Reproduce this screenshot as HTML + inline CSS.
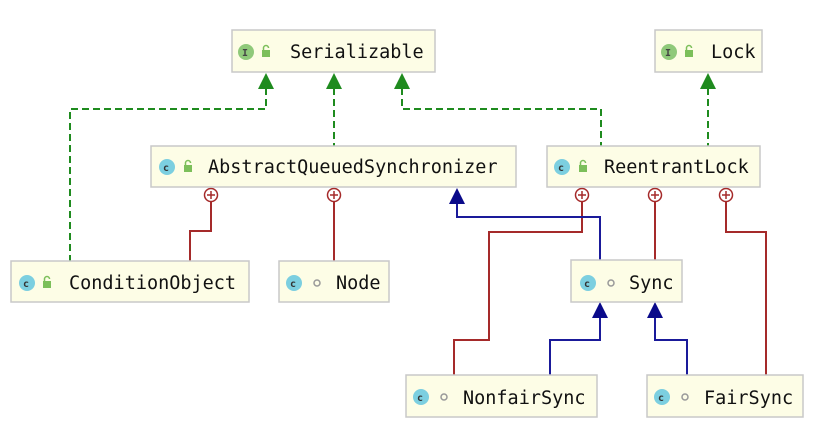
<!DOCTYPE html>
<html><head><meta charset="utf-8"><style>
html,body{margin:0;padding:0;background:#fff;width:826px;height:438px;overflow:hidden}
text{font-family:"DejaVu Sans Mono","Liberation Mono",monospace;font-size:18.5px;fill:#111}
</style></head><body>
<svg width="826" height="438" viewBox="0 0 826 438" xmlns="http://www.w3.org/2000/svg">
<defs>
<g id="lockg"><rect x="0" y="4" width="8" height="7" fill="#7cbf5a"/><path d="M1.5 4 V2 a2.5 2.5 0 0 1 5 0" fill="none" stroke="#7cbf5a" stroke-width="1.5"/></g>
<g id="dot"><circle r="3" fill="none" stroke="#999" stroke-width="1.5"/></g>
<g id="plus"><circle r="6.5" fill="#fff" stroke="#a52a2a" stroke-width="1.5"/><path d="M-4 0H4M0 -4V4" stroke="#a52a2a" stroke-width="1.5"/></g>
</defs>
<g fill="none" stroke-width="2">
<!-- green dashed -->
<g stroke="#1f8b1f" stroke-dasharray="7,4">
<path d="M266 88V109H70V261"/>
<path d="M334 88V146"/>
<path d="M402 88V109H601V146"/>
<path d="M708 88V146"/>
</g>
<!-- red -->
<g stroke="#a52a2a">
<path d="M211 201V231H190V261"/>
<path d="M334 201V261"/>
<path d="M582 201V232H489V340H454V375"/>
<path d="M655 201V260"/>
<path d="M726 201V232H766V375"/>
</g>
<!-- blue -->
<g stroke="#1a1a9a">
<path d="M457 203V217H600V260"/>
<path d="M600 318V340H550V375"/>
<path d="M655 318V340H687V375"/>
</g>
</g>
<!-- arrowheads -->
<g fill="#1f8b1f">
<path d="M266 73L258 89H274Z"/><path d="M334 73L326 89H342Z"/><path d="M402 73L394 89H410Z"/><path d="M708 73L700 89H716Z"/>
</g>
<g fill="#0a0a8a">
<path d="M457 188L449 204H465Z"/><path d="M600 302L592 318H608Z"/><path d="M655 302L647 318H663Z"/>
</g>
<use href="#plus" x="211" y="195"/><use href="#plus" x="334" y="195"/>
<use href="#plus" x="582" y="195"/><use href="#plus" x="655" y="195"/><use href="#plus" x="726" y="195"/>
<!-- boxes -->
<g fill="#fdfde6" stroke="#c8c8c8" stroke-width="1.5">
<rect x="232" y="30" width="203" height="42"/>
<rect x="655" y="30" width="107" height="42"/>
<rect x="151" y="146" width="365" height="41"/>
<rect x="547" y="146" width="213" height="41"/>
<rect x="11" y="261" width="238" height="41"/>
<rect x="279" y="261" width="110" height="41"/>
<rect x="571" y="260" width="111" height="42"/>
<rect x="406" y="375" width="191" height="42"/>
<rect x="647" y="375" width="156" height="42"/>
</g>
<!-- icons -->
<g>
<circle cx="246" cy="52" r="8" fill="#8fc97a"/><text x="242" y="56" style="font-size:10px;font-weight:bold;fill:#444">I</text>
<use href="#lockg" x="262" y="46"/>
<circle cx="669" cy="52" r="8" fill="#8fc97a"/><text x="665" y="56" style="font-size:10px;font-weight:bold;fill:#444">I</text>
<use href="#lockg" x="685" y="46"/>
<circle cx="167" cy="167" r="8" fill="#7ccfe0"/><text x="163" y="171" style="font-size:10px;font-weight:bold;fill:#333">c</text>
<use href="#lockg" x="184" y="161"/>
<circle cx="562" cy="167" r="8" fill="#7ccfe0"/><text x="558" y="171" style="font-size:10px;font-weight:bold;fill:#333">c</text>
<use href="#lockg" x="579" y="161"/>
<circle cx="27" cy="283" r="8" fill="#7ccfe0"/><text x="23" y="287" style="font-size:10px;font-weight:bold;fill:#333">c</text>
<use href="#lockg" x="43" y="277"/>
<circle cx="294" cy="283" r="8" fill="#7ccfe0"/><text x="290" y="287" style="font-size:10px;font-weight:bold;fill:#333">c</text>
<use href="#dot" x="317" y="283"/>
<circle cx="588" cy="283" r="8" fill="#7ccfe0"/><text x="584" y="287" style="font-size:10px;font-weight:bold;fill:#333">c</text>
<use href="#dot" x="611" y="283"/>
<circle cx="421" cy="397" r="8" fill="#7ccfe0"/><text x="417" y="401" style="font-size:10px;font-weight:bold;fill:#333">c</text>
<use href="#dot" x="444" y="397"/>
<circle cx="662" cy="397" r="8" fill="#7ccfe0"/><text x="658" y="401" style="font-size:10px;font-weight:bold;fill:#333">c</text>
<use href="#dot" x="685" y="397"/>
</g>
<!-- labels -->
<text x="290" y="58">Serializable</text>
<text x="711" y="58">Lock</text>
<text x="208" y="173">AbstractQueuedSynchronizer</text>
<text x="604" y="173">ReentrantLock</text>
<text x="69" y="289">ConditionObject</text>
<text x="336" y="289">Node</text>
<text x="629" y="289">Sync</text>
<text x="463" y="404">NonfairSync</text>
<text x="704" y="404">FairSync</text>
</svg>
</body></html>
